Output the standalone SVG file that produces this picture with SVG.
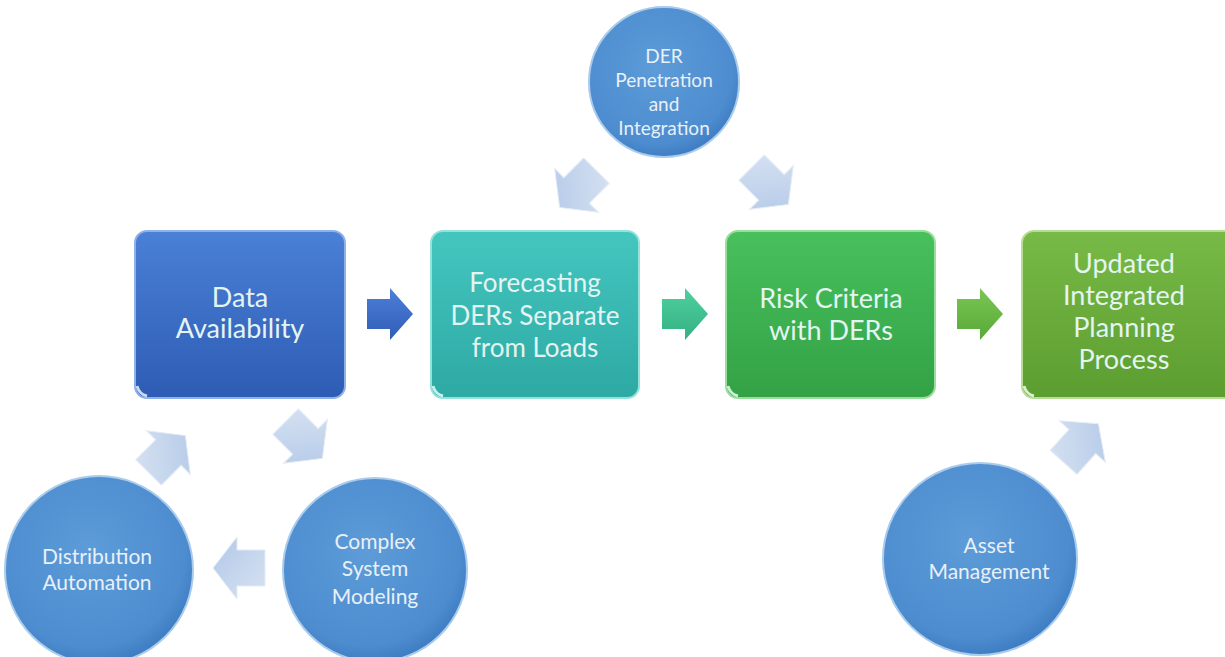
<svg xmlns="http://www.w3.org/2000/svg" width="1225" height="657" viewBox="0 0 1225 657">
<defs>
<linearGradient id="gBlue" x1="0" y1="0" x2="0" y2="1"><stop offset="0" stop-color="#4a80d6"/><stop offset="1" stop-color="#2e5cb4"/></linearGradient>
<linearGradient id="gTeal" x1="0" y1="0" x2="0" y2="1"><stop offset="0" stop-color="#44c6bf"/><stop offset="1" stop-color="#2ea9a4"/></linearGradient>
<linearGradient id="gGreen" x1="0" y1="0" x2="0" y2="1"><stop offset="0" stop-color="#48c05c"/><stop offset="1" stop-color="#33a246"/></linearGradient>
<linearGradient id="gOlive" x1="0" y1="0" x2="0" y2="1"><stop offset="0" stop-color="#78ba47"/><stop offset="1" stop-color="#5c9d30"/></linearGradient>
<radialGradient id="gCircle" cx="0.45" cy="0.4" r="0.6"><stop offset="0" stop-color="#5d9cd8"/><stop offset="0.85" stop-color="#4d8ccf"/><stop offset="1" stop-color="#3f7ec2"/></radialGradient>
<linearGradient id="gLight" x1="0" y1="0" x2="1" y2="1"><stop offset="0" stop-color="#d4e0f2"/><stop offset="1" stop-color="#a9c2e4"/></linearGradient>
<linearGradient id="aBlue" x1="0" y1="0" x2="0" y2="1"><stop offset="0" stop-color="#4d80d8"/><stop offset="1" stop-color="#2f5cb8"/></linearGradient>
<linearGradient id="aTeal" x1="0" y1="0" x2="0" y2="1"><stop offset="0" stop-color="#4fcf9e"/><stop offset="1" stop-color="#35b184"/></linearGradient>
<linearGradient id="aGreen" x1="0" y1="0" x2="0" y2="1"><stop offset="0" stop-color="#7ac653"/><stop offset="1" stop-color="#58a938"/></linearGradient>
<path id="bigArrow" d="M-23,-15 H0 V-26 L23,0 L0,26 V15 H-23 Z"/>
<path id="lightArrow" d="M-26,-18 H2 V-31 L26,0 L2,31 V18 H-26 Z"/>
</defs>
<style>
.box { stroke-width: 2; }
.btxt { font-family: Lato, "Open Sans", "Liberation Sans", sans-serif; font-size: 27px; fill: #e4f4f2; text-anchor: middle; }
.ctxt { font-family: Lato, "Open Sans", "Liberation Sans", sans-serif; font-size: 21px; fill: #e8f0f8; text-anchor: middle; }
.circ { fill: url(#gCircle); stroke: #a9cbec; stroke-width: 2; }
.light { fill: url(#gLight); stroke: #e2eaf6; stroke-width: 1; opacity: 0.9; }
</style>
<rect width="1225" height="657" fill="#ffffff"/>

<g id="data-availability">
<rect class="box" x="135" y="231" width="210" height="167" rx="12" fill="url(#gBlue)" stroke="#8fb0e8"/>
<path d="M137,386 q2,8 10,10" fill="none" stroke="#c8daf6" stroke-width="3"/>
<text class="btxt" x="240" y="307">Data</text>
<text class="btxt" x="240" y="338">Availability</text>
</g>

<g id="forecasting">
<rect class="box" x="431" y="231" width="208" height="167" rx="12" fill="url(#gTeal)" stroke="#93e2dc"/>
<path d="M433,386 q2,8 10,10" fill="none" stroke="#c8f0ee" stroke-width="3"/>
<text class="btxt" x="535" y="292" style="font-size:26px">Forecasting</text>
<text class="btxt" x="535" y="325" style="font-size:26px">DERs Separate</text>
<text class="btxt" x="535" y="357" style="font-size:26px">from Loads</text>
</g>

<g id="risk-criteria">
<rect class="box" x="726" y="231" width="209" height="167" rx="12" fill="url(#gGreen)" stroke="#9ade9f"/>
<path d="M728,386 q2,8 10,10" fill="none" stroke="#cdeed2" stroke-width="3"/>
<text class="btxt" x="831" y="308">Risk Criteria</text>
<text class="btxt" x="831" y="340">with DERs</text>
</g>

<g id="updated-process">
<rect class="box" x="1022" y="231" width="215" height="167" rx="12" fill="url(#gOlive)" stroke="#b7dc98"/>
<path d="M1024,386 q2,8 10,10" fill="none" stroke="#dcefcb" stroke-width="3"/>
<text class="btxt" x="1124" y="273">Updated</text>
<text class="btxt" x="1124" y="305">Integrated</text>
<text class="btxt" x="1124" y="337">Planning</text>
<text class="btxt" x="1124" y="369">Process</text>
</g>

<g id="der-penetration">
<circle class="circ" cx="664" cy="82" r="75"/>
<text class="ctxt" x="664" y="63" style="font-size:19px">DER</text>
<text class="ctxt" x="664" y="87" style="font-size:19px">Penetration</text>
<text class="ctxt" x="664" y="111" style="font-size:19px">and</text>
<text class="ctxt" x="664" y="135" style="font-size:19px">Integration</text>
</g>

<g id="distribution-automation">
<circle class="circ" cx="99" cy="570" r="94"/>
<text class="ctxt" x="97" y="564">Distribution</text>
<text class="ctxt" x="97" y="590">Automation</text>
</g>

<g id="complex-system-modeling">
<circle class="circ" cx="375" cy="570" r="92"/>
<text class="ctxt" x="375" y="549">Complex</text>
<text class="ctxt" x="375" y="576">System</text>
<text class="ctxt" x="375" y="604">Modeling</text>
</g>

<g id="asset-management">
<ellipse class="circ" cx="980" cy="559" rx="97" ry="96"/>
<text class="ctxt" x="989" y="553">Asset</text>
<text class="ctxt" x="989" y="579">Management</text>
</g>

<g id="connectors">
<use href="#bigArrow" transform="translate(390,314)" fill="url(#aBlue)"/>
<use href="#bigArrow" transform="translate(685,314)" fill="url(#aTeal)"/>
<use href="#bigArrow" transform="translate(980,314)" fill="url(#aGreen)"/>
<use href="#lightArrow" class="light" transform="translate(578,189) rotate(135)"/>
<use href="#lightArrow" class="light" transform="translate(770,186) rotate(45)"/>
<use href="#lightArrow" class="light" transform="translate(167,454) rotate(-45)"/>
<use href="#lightArrow" class="light" transform="translate(304,440) rotate(45)"/>
<use href="#lightArrow" class="light" transform="translate(239,568) rotate(180)"/>
<use href="#lightArrow" class="light" transform="translate(1081,443) rotate(-48)"/>
</g>
</svg>
